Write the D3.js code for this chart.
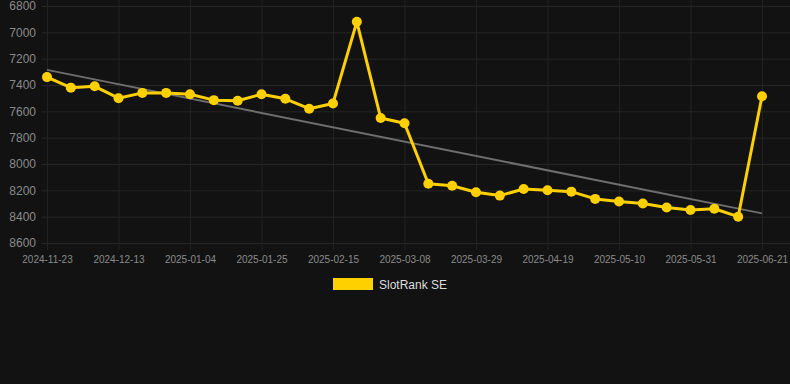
<!DOCTYPE html>
<html>
<head>
<meta charset="utf-8">
<script src="https://cdn.jsdelivr.net/npm/d3@7"></script>
<style>
  body { margin: 0; background: #121212; }
  svg { display: block; font-family: Arial, "Liberation Sans", sans-serif; }
</style>
</head>
<body>
<div id="chart"></div>
<script>
// Weekly dates (category axis, every 3rd one labelled)
const dates = [
  '2024-11-23', '2024-11-30', '2024-12-06', '2024-12-13', '2024-12-20', '2024-12-27',
  '2025-01-04', '2025-01-11', '2025-01-18', '2025-01-25', '2025-02-01', '2025-02-08',
  '2025-02-15', '2025-02-22', '2025-03-01', '2025-03-08', '2025-03-15', '2025-03-22',
  '2025-03-29', '2025-04-05', '2025-04-12', '2025-04-19', '2025-04-26', '2025-05-03',
  '2025-05-10', '2025-05-17', '2025-05-24', '2025-05-31', '2025-06-07', '2025-06-14',
  '2025-06-21'
];

// SlotRank SE rank per week
const ranks = [
  7340, 7420, 7410, 7500, 7460, 7460, 7470, 7515, 7520, 7470, 7505, 7580,
  7540, 6920, 7650, 7690, 8150, 8165, 8215, 8240, 8190, 8200, 8210, 8265,
  8285, 8300, 8330, 8350, 8340, 8400, 7485
];

// Trend line, start and end values
const trend = [7285, 8375];

const yTicks = [6800, 7000, 7200, 7400, 7600, 7800, 8000, 8200, 8400, 8600];
const xTickLabels = dates.filter((d, i) => i % 3 === 0);

const width = 790, height = 384;
const svg = d3.select('#chart').append('svg')
  .attr('width', width)
  .attr('height', height);

// Scales
const x = d3.scalePoint()
  .domain(dates)
  .range([47, 762]);

const y = d3.scaleLinear()
  .domain([6800, 8600])
  .range([6, 243]);

// Horizontal grid + y labels
const yAxis = d3.axisLeft(y)
  .tickValues(yTicks)
  .tickSize(-(790 - 42))
  .tickPadding(6)
  .tickFormat(d => d);

svg.append('g')
  .attr('transform', 'translate(42,0)')
  .call(yAxis)
  .call(g => g.select('.domain').remove())
  .call(g => g.selectAll('line').attr('stroke', '#262626'))
  .call(g => g.selectAll('text')
    .attr('fill', '#8a8a8a')
    .style('font-size', '12px'));

// Vertical grid + x labels
const xAxis = d3.axisBottom(x)
  .tickValues(xTickLabels)
  .tickSize(250)
  .tickPadding(6);

svg.append('g')
  .attr('transform', 'translate(0,0)')
  .call(xAxis)
  .call(g => g.select('.domain').remove())
  .call(g => g.selectAll('line').attr('stroke', '#222'))
  .call(g => g.selectAll('text')
    .attr('fill', '#8a8a8a')
    .style('font-size', '10px'));

// Trend line
svg.append('line')
  .attr('x1', x(dates[0]))
  .attr('y1', y(trend[0]))
  .attr('x2', x(dates[dates.length - 1]))
  .attr('y2', y(trend[1]))
  .attr('stroke', '#6e6e6e')
  .attr('stroke-width', 2);

// Series line
const line = d3.line()
  .x((d, i) => x(dates[i]))
  .y(d => y(d));

svg.append('path')
  .datum(ranks)
  .attr('fill', 'none')
  .attr('stroke', '#ffd000')
  .attr('stroke-width', 3)
  .attr('stroke-linejoin', 'round')
  .attr('d', line);

svg.selectAll('.dot')
  .data(ranks)
  .enter().append('circle')
  .attr('class', 'dot')
  .attr('cx', (d, i) => x(dates[i]))
  .attr('cy', d => y(d))
  .attr('r', 5)
  .attr('fill', '#ffd000');

// Legend
const legend = svg.append('g').attr('transform', 'translate(333,278)');
legend.append('rect')
  .attr('width', 40)
  .attr('height', 12)
  .attr('fill', '#ffd000');
legend.append('text')
  .attr('x', 46)
  .attr('y', 10.5)
  .attr('fill', '#dcdcdc')
  .style('font-size', '12px')
  .text('SlotRank SE');
</script>
</body>
</html>
